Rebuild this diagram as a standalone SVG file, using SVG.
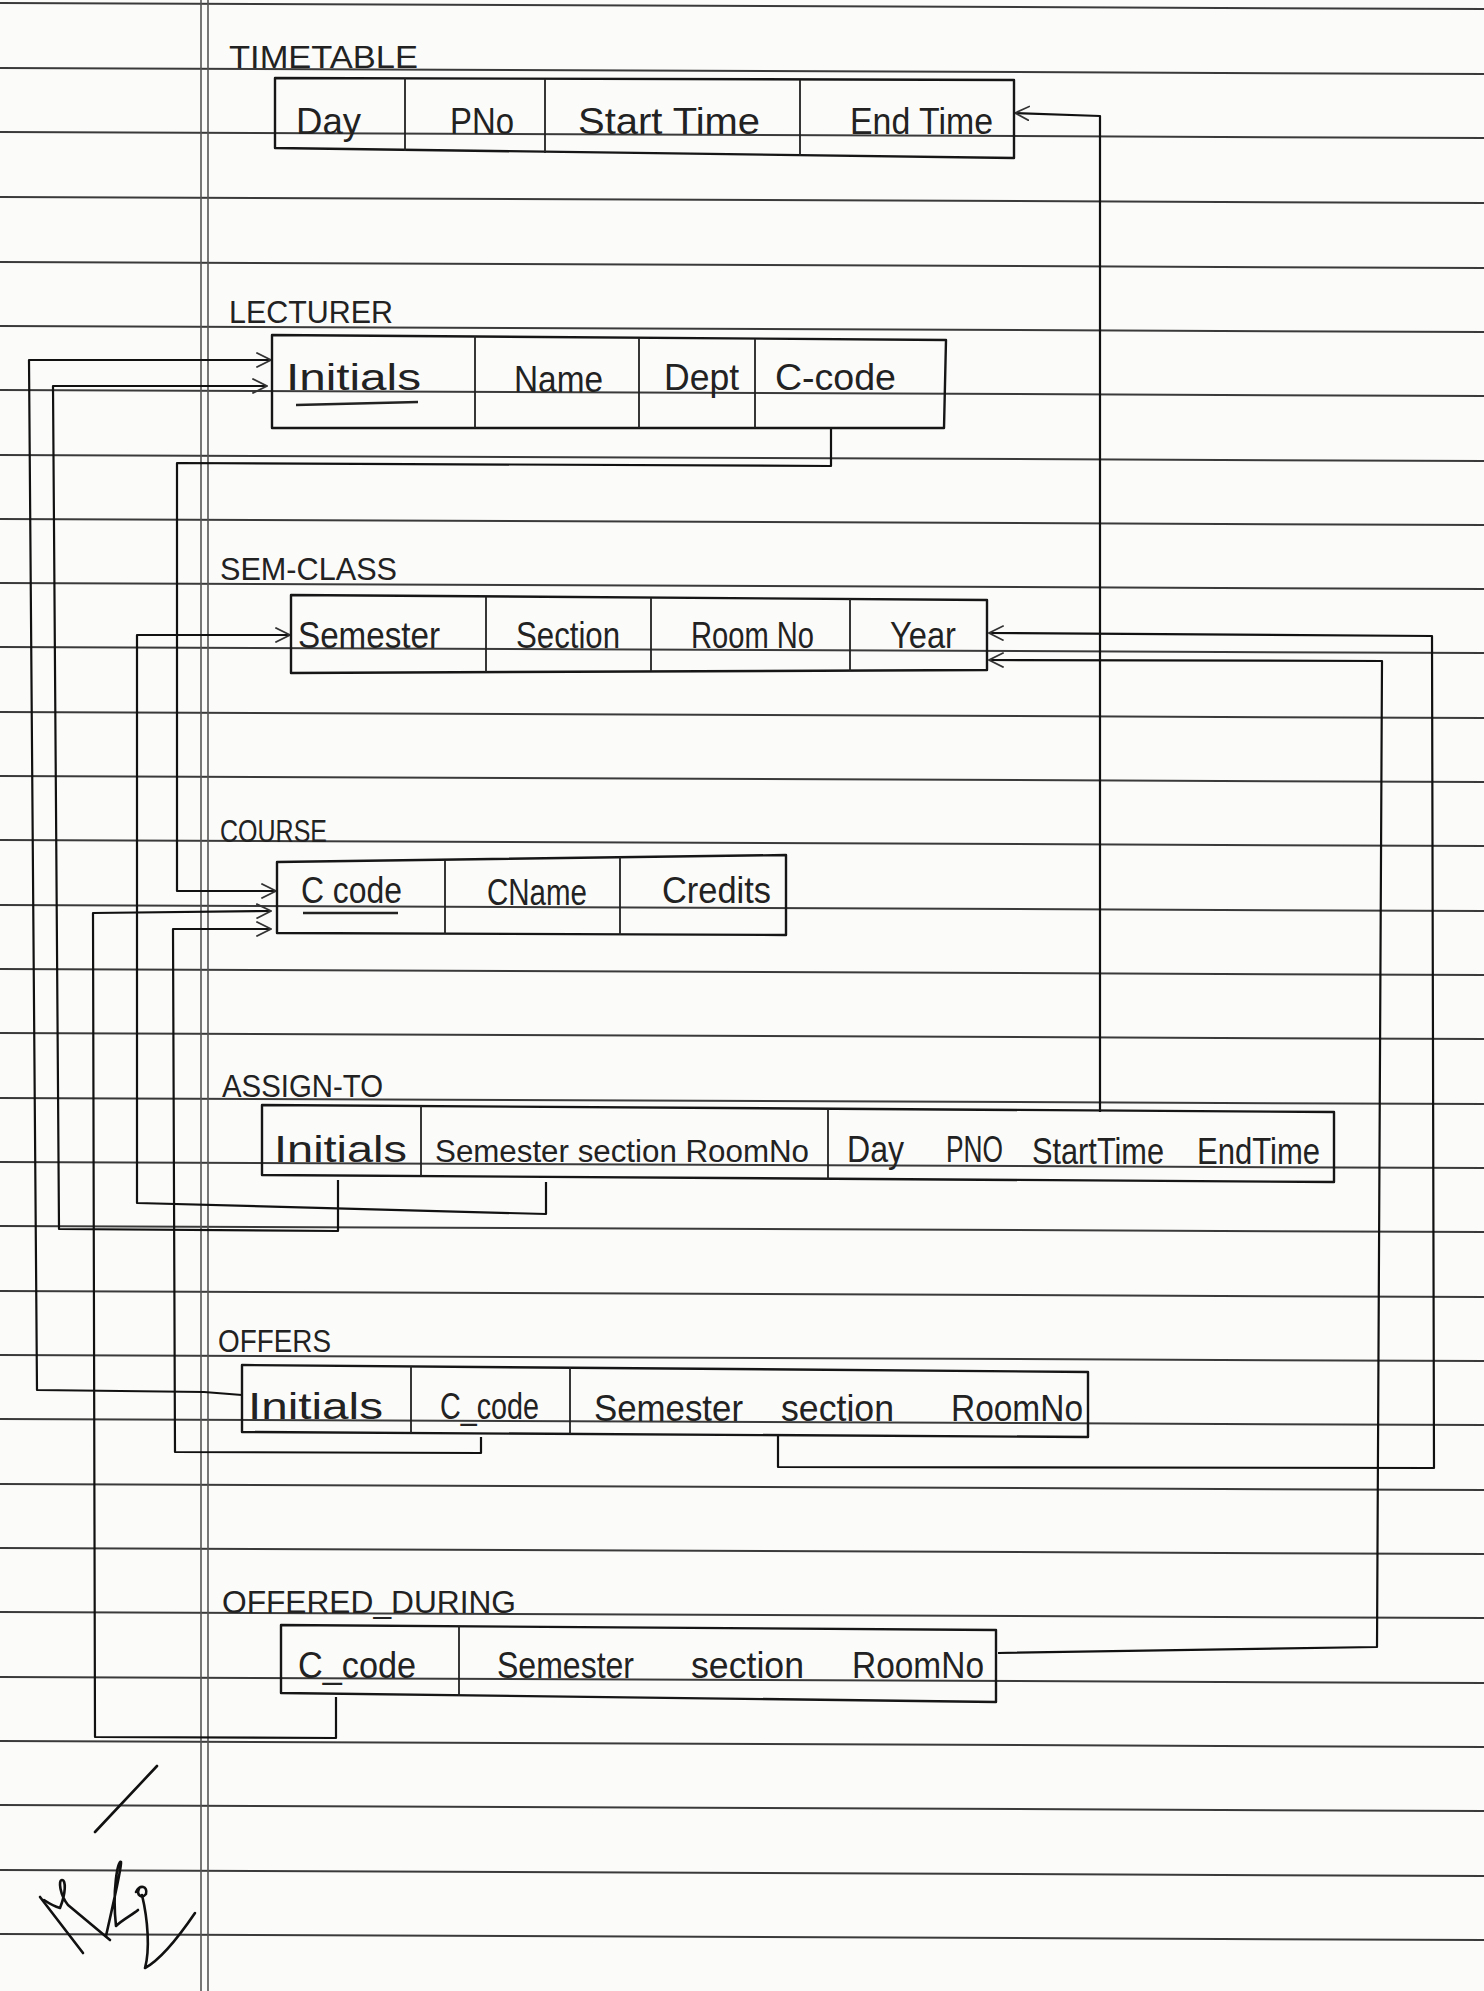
<svg xmlns="http://www.w3.org/2000/svg" width="1484" height="1991" viewBox="0 0 1484 1991">
<defs>
<style>
.rule{stroke:#3a3a3a;stroke-width:2;fill:none}
.margin{stroke:#555;stroke-width:1.6;fill:none}
.box{stroke:#161616;stroke-width:2.4;fill:none;stroke-linejoin:round}
.div{stroke:#222;stroke-width:1.8;fill:none}
.conn{stroke:#111;stroke-width:2.2;fill:none;stroke-linejoin:round}
.t{font-family:"Liberation Sans","DejaVu Sans",sans-serif;font-size:36px;fill:#222}
.h{font-family:"Liberation Sans","DejaVu Sans",sans-serif;font-size:31px;fill:#222}
.ul{stroke:#222;stroke-width:2.4}
.sig{stroke:#111;stroke-width:2.6;fill:none;stroke-linecap:round;stroke-linejoin:round}
</style>
<marker id="arr" viewBox="0 0 12 12" refX="11" refY="6" markerWidth="16" markerHeight="16" orient="auto" markerUnits="userSpaceOnUse">
<path d="M0,0.5 L11,6 L0,11.5" fill="none" stroke="#333" stroke-width="1.3"/>
</marker>
</defs>
<rect width="1484" height="1991" fill="#fbfbfa"/>
<g id="paper">
<path class="rule" d="M0,3 L1484,9 M0,68 L1484,74 M0,132 L1484,138 M0,197 L1484,203 M0,262 L1484,268 M0,326 L1484,332 M0,390 L1484,396 M0,455 L1484,461 M0,519 L1484,525 M0,583 L1484,589 M0,647 L1484,653 M0,712 L1484,718 M0,776 L1484,782 M0,840 L1484,846 M0,905 L1484,911 M0,969 L1484,975 M0,1033 L1484,1039 M0,1098 L1484,1104 M0,1162 L1484,1168 M0,1226 L1484,1232 M0,1291 L1484,1297 M0,1355 L1484,1361 M0,1419 L1484,1425 M0,1484 L1484,1490 M0,1548 L1484,1554 M0,1612 L1484,1618 M0,1677 L1484,1683 M0,1741 L1484,1747 M0,1805 L1484,1811 M0,1870 L1484,1876 M0,1934 L1484,1940"/>
<path class="margin" d="M201,0 L201,1991 M208,0 L208,1991"/>
</g>
<g id="connectors">
<path class="conn" d="M242,1395 L204,1392 L37,1390 L29,360 L271,360" marker-end="url(#arr)"/>
<path class="conn" d="M338,1180 L338,1231 L59,1229 L53,386 L267,386" marker-end="url(#arr)"/>
<path class="conn" d="M546,1182 L546,1214 L137,1203 L137,635 L290,635" marker-end="url(#arr)"/>
<path class="conn" d="M831,429 L831,466 L177,463 L177,891 L276,891" marker-end="url(#arr)"/>
<path class="conn" d="M336,1697 L336,1738 L95,1737 L93,913 L271,911" marker-end="url(#arr)"/>
<path class="conn" d="M481,1437 L481,1453 L175,1452 L173,929 L271,929" marker-end="url(#arr)"/>
<path class="conn" d="M1100,1112 L1100,116 L1015,113" marker-end="url(#arr)"/>
<path class="conn" d="M778,1435 L778,1467 L1434,1468 L1432,636 L989,633" marker-end="url(#arr)"/>
<path class="conn" d="M998,1653 L1377,1647 L1382,661 L989,660" marker-end="url(#arr)"/>
</g>
<g id="timetable">
<text class="h" x="229" y="68" textLength="189" lengthAdjust="spacingAndGlyphs">TIMETABLE</text>
<path class="box" d="M275,78 L1014,80 L1014,158 L275,148 Z"/>
<path class="div" d="M405,78 L405,151 M545,79 L545,153 M800,80 L800,156"/>
<text class="t" x="296" y="134" textLength="65" lengthAdjust="spacingAndGlyphs">Day</text>
<text class="t" x="450" y="134" textLength="64" lengthAdjust="spacingAndGlyphs">PNo</text>
<text class="t" x="578" y="134" textLength="182" lengthAdjust="spacingAndGlyphs">Start Time</text>
<text class="t" x="850" y="134" textLength="143" lengthAdjust="spacingAndGlyphs">End Time</text>
</g>
<g id="lecturer">
<text class="h" x="229" y="323" textLength="164" lengthAdjust="spacingAndGlyphs">LECTURER</text>
<path class="box" d="M272,335 L946,340 L944,428 L272,428 Z"/>
<path class="div" d="M475,336 L475,428 M639,338 L639,428 M755,339 L755,428"/>
<text class="t" x="286" y="390" textLength="135" lengthAdjust="spacingAndGlyphs">Initials</text>
<line class="ul" x1="296" y1="405" x2="418" y2="402"/>
<text class="t" x="514" y="392" textLength="89" lengthAdjust="spacingAndGlyphs">Name</text>
<text class="t" x="664" y="390" textLength="75" lengthAdjust="spacingAndGlyphs">Dept</text>
<text class="t" x="775" y="390" textLength="121" lengthAdjust="spacingAndGlyphs">C-code</text>
</g>
<g id="sem-class">
<text class="h" x="220" y="580" textLength="177" lengthAdjust="spacingAndGlyphs">SEM-CLASS</text>
<path class="box" d="M291,595 L987,600 L987,670 L291,673 Z"/>
<path class="div" d="M486,597 L486,672 M651,598 L651,671 M850,599 L850,671"/>
<text class="t" x="298" y="648" textLength="142" lengthAdjust="spacingAndGlyphs">Semester</text>
<text class="t" x="516" y="648" textLength="104" lengthAdjust="spacingAndGlyphs">Section</text>
<text class="t" x="691" y="648" textLength="123" lengthAdjust="spacingAndGlyphs">Room No</text>
<text class="t" x="890" y="648" textLength="66" lengthAdjust="spacingAndGlyphs">Year</text>
</g>
<g id="course">
<text class="h" x="220" y="842" textLength="107" lengthAdjust="spacingAndGlyphs">COURSE</text>
<path class="box" d="M277,862 L786,855 L786,935 L277,933 Z"/>
<path class="div" d="M445,860 L445,934 M620,857 L620,935"/>
<text class="t" x="301" y="903" textLength="101" lengthAdjust="spacingAndGlyphs">C code</text>
<line class="ul" x1="303" y1="913" x2="398" y2="913"/>
<text class="t" x="487" y="905" textLength="100" lengthAdjust="spacingAndGlyphs">CName</text>
<text class="t" x="662" y="903" textLength="109" lengthAdjust="spacingAndGlyphs">Credits</text>
</g>
<g id="assign-to">
<text class="h" x="222" y="1097" textLength="161" lengthAdjust="spacingAndGlyphs">ASSIGN-TO</text>
<path class="box" d="M262,1105 L1334,1112 L1334,1182 L262,1175 Z"/>
<path class="div" d="M421,1106 L421,1176 M828,1109 L828,1180"/>
<text class="t" x="274" y="1162" textLength="133" lengthAdjust="spacingAndGlyphs">Initials</text>
<text class="t" x="435" y="1162" style="font-size:31px" textLength="374" lengthAdjust="spacingAndGlyphs">Semester section RoomNo</text>
<text class="t" x="847" y="1162" textLength="57" lengthAdjust="spacingAndGlyphs">Day</text>
<text class="t" x="946" y="1162" textLength="57" lengthAdjust="spacingAndGlyphs">PNO</text>
<text class="t" x="1032" y="1164" textLength="132" lengthAdjust="spacingAndGlyphs">StartTime</text>
<text class="t" x="1197" y="1164" textLength="123" lengthAdjust="spacingAndGlyphs">EndTime</text>
</g>
<g id="offers">
<text class="h" x="218" y="1352" textLength="113" lengthAdjust="spacingAndGlyphs">OFFERS</text>
<path class="box" d="M242,1365 L1088,1372 L1088,1437 L242,1432 Z"/>
<path class="div" d="M411,1366 L411,1433 M570,1367 L570,1434"/>
<text class="t" x="248" y="1419" textLength="135" lengthAdjust="spacingAndGlyphs">Initials</text>
<text class="t" x="440" y="1419" textLength="99" lengthAdjust="spacingAndGlyphs">C_code</text>
<text class="t" x="594" y="1421" textLength="149" lengthAdjust="spacingAndGlyphs">Semester</text>
<text class="t" x="781" y="1421" textLength="113" lengthAdjust="spacingAndGlyphs">section</text>
<text class="t" x="951" y="1421" textLength="132" lengthAdjust="spacingAndGlyphs">RoomNo</text>
</g>
<g id="offered-during">
<text class="h" x="222" y="1613" textLength="294" lengthAdjust="spacingAndGlyphs">OFFERED_DURING</text>
<path class="box" d="M281,1625 L996,1630 L996,1702 L281,1693 Z"/>
<path class="div" d="M459,1626 L459,1696"/>
<text class="t" x="298" y="1678" textLength="118" lengthAdjust="spacingAndGlyphs">C_code</text>
<text class="t" x="497" y="1678" textLength="137" lengthAdjust="spacingAndGlyphs">Semester</text>
<text class="t" x="691" y="1678" textLength="113" lengthAdjust="spacingAndGlyphs">section</text>
<text class="t" x="852" y="1678" textLength="132" lengthAdjust="spacingAndGlyphs">RoomNo</text>
</g>
<g id="signature">
<path class="sig" d="M157,1766 L95,1832"/>
<path class="sig" d="M40,1897 L83,1953"/>
<path class="sig" d="M44,1900 Q53,1906 60,1908 C66,1893 66,1880 62,1880 C58,1880 60,1895 68,1905 L110,1940"/>
<path class="sig" d="M106,1936 C114,1900 122,1866 121,1862 C118,1859 112,1890 116,1926 C122,1920 132,1915 138,1910"/>
<path class="sig" d="M136,1892 C140,1884 148,1886 146,1894 C142,1899 136,1895 139,1889"/>
<path class="sig" d="M142,1895 C148,1920 150,1950 145,1968 C160,1960 180,1935 195,1913"/>
</g>
</svg>
